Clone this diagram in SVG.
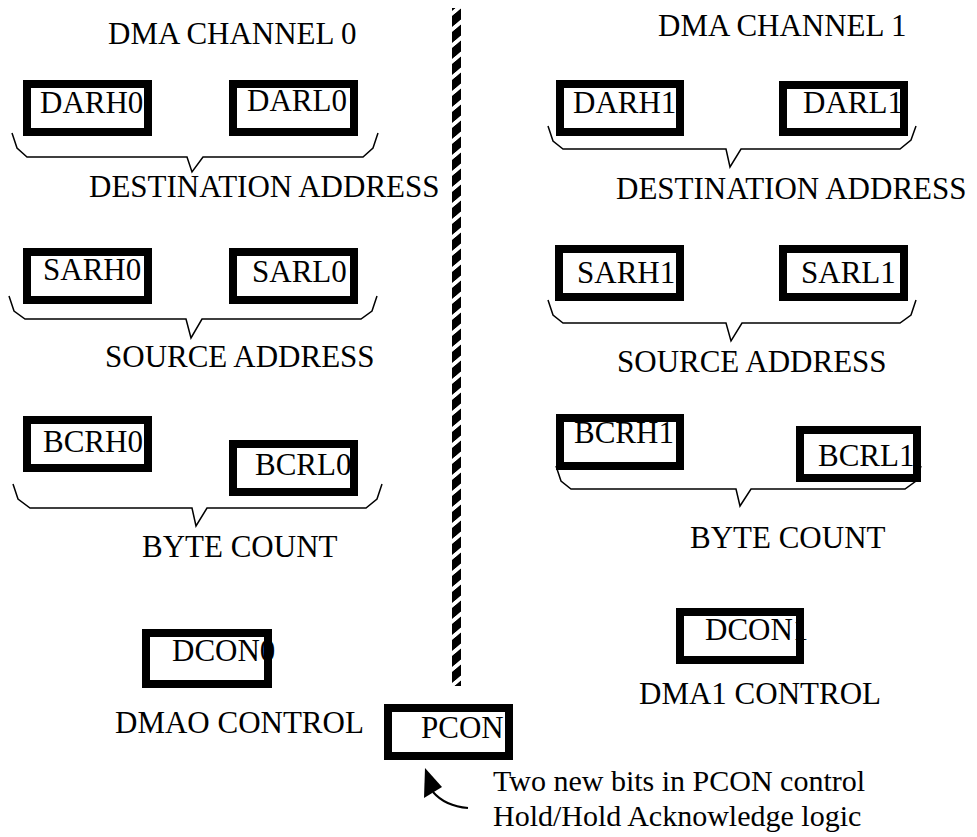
<svg xmlns="http://www.w3.org/2000/svg" width="977" height="837" viewBox="0 0 977 837">
<style>
text{font-family:"Liberation Serif","Times New Roman",serif;font-size:31px;fill:#000}
.note{font-size:30px}
.box{fill:none;stroke:#000;stroke-width:8}
.brace{fill:none;stroke:#000;stroke-width:1.5;stroke-linejoin:miter}
</style>
<defs>
<pattern id="stripes" patternUnits="userSpaceOnUse" width="9" height="16" patternTransform="translate(452 0) skewY(-40)">
<rect x="0" y="0" width="9" height="11" fill="#000"/>
</pattern>
</defs>
<rect width="977" height="837" fill="#fff"/>

<g id="divider"><rect x="452" y="8" width="9" height="678" fill="url(#stripes)"/></g>

<text x="108" y="44">DMA CHANNEL 0</text>
<text x="658" y="36">DMA CHANNEL 1</text>

<g id="DARH0"><text x="40" y="113">DARH0</text><rect class="box" x="27" y="84" width="121" height="48"/></g>
<g id="DARL0"><text x="247" y="111">DARL0</text><rect class="box" x="233" y="84" width="121" height="48"/></g>
<g id="DARH1"><text x="573" y="113">DARH1</text><rect class="box" x="560" y="84" width="120" height="48"/></g>
<g id="DARL1"><text x="803" y="113">DARL1</text><rect class="box" x="783" y="85" width="121" height="47"/></g>

<g id="SARH0"><text x="43" y="280">SARH0</text><rect class="box" x="27" y="252" width="121" height="48"/></g>
<g id="SARL0"><text x="252" y="282">SARL0</text><rect class="box" x="233" y="252" width="121" height="48"/></g>
<g id="SARH1"><text x="577" y="283">SARH1</text><rect class="box" x="559" y="249" width="121" height="48"/></g>
<g id="SARL1"><text x="801" y="283">SARL1</text><rect class="box" x="783" y="249" width="121" height="48"/></g>

<g id="BCRH0"><text x="43" y="452">BCRH0</text><rect class="box" x="27" y="420" width="121" height="48"/></g>
<g id="BCRL0"><text x="255" y="475">BCRL0</text><rect class="box" x="233" y="444" width="121" height="48"/></g>
<g id="BCRH1"><text x="574" y="443">BCRH1</text><rect class="box" x="560" y="418" width="120" height="48"/></g>
<g id="BCRL1"><text x="818" y="466">BCRL1</text><rect class="box" x="800" y="430" width="117" height="48"/></g>

<g id="DCON0"><text x="172" y="661">DCON0</text><rect class="box" x="146" y="633" width="122" height="51"/></g>
<g id="DCON1"><text x="705" y="640">DCON1</text><rect class="box" x="680" y="612" width="120" height="48"/></g>
<g id="PCON"><text x="421" y="738">PCON</text><rect class="box" x="388" y="708" width="121" height="48"/></g>

<g id="connectors">
<path class="brace" d="M12,133 L17,148 L27,157 L187,157 L192,172 L203,157 L363,157 L373,148 L378,133"/>
<path class="brace" d="M548,126 L553,141 L563,149 L726,149 L730,167 L741,149 L900,149 L911,140 L916,126"/>
<path class="brace" d="M9,296 L14,311 L25,319 L186,319 L191,338 L202,319 L361,319 L372,311 L377,296"/>
<path class="brace" d="M548,300 L553,315 L563,323 L726,323 L731,341 L742,323 L900,323 L911,315 L916,300"/>
<path class="brace" d="M13,484 L18,499 L30,508 L192,508 L196,526 L207,508 L366,508 L377,499 L382,484"/>
<path class="brace" d="M556,466 L561,481 L571,489 L736,489 L740,506 L751,489 L905,489 L916,481 L921,466"/>
<path d="M468,808 Q445,806 433,792" fill="none" stroke="#000" stroke-width="2"/>
<polygon points="425,768 424,798 442,787" fill="#000"/>
</g>

<text x="89" y="197">DESTINATION ADDRESS</text>
<text x="616" y="199">DESTINATION ADDRESS</text>
<text x="105" y="367">SOURCE ADDRESS</text>
<text x="617" y="372">SOURCE ADDRESS</text>
<text x="142" y="557">BYTE COUNT</text>
<text x="690" y="548">BYTE COUNT</text>
<text x="115" y="733">DMAO CONTROL</text>
<text x="639" y="704">DMA1 CONTROL</text>
<text class="note" x="493" y="791">Two new bits in PCON control</text>
<text class="note" x="493" y="826">Hold/Hold Acknowledge logic</text>
</svg>
